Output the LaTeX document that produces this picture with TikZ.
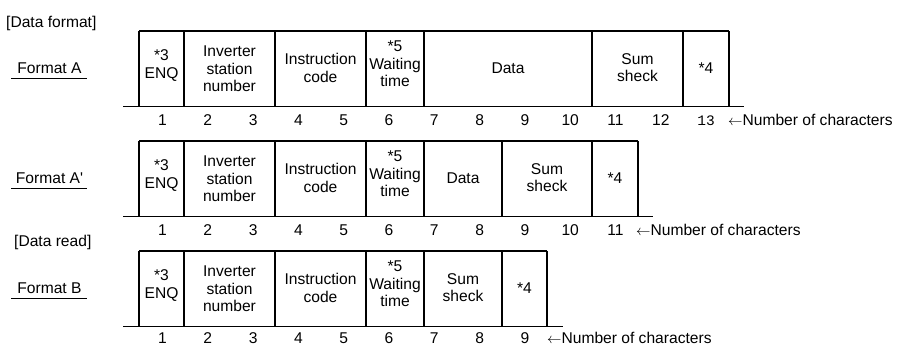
\documentclass[tikz,border=0pt]{standalone}
\usepackage{fontspec}
\setmainfont{Liberation Sans}[Ligatures=TeXOff]
\newfontfamily\monofont{Liberation Mono}
\begin{document}
\begin{tikzpicture}[x=1pt,y=-1pt,
  frame/.style={line width=1.8pt},
  uline/.style={line width=1pt},
  txt/.style={font=\fontsize{15.6}{17.5}\selectfont, inner sep=0pt, align=center},
  num/.style={txt, anchor=base},
  lbl/.style={txt, anchor=base},
]
\useasboundingbox (0,0) rectangle (898,347);

% headings
\node[txt, anchor=base west] (hfmt) at (6,27.5) {[Data format]};
\node[txt, anchor=base west] (hread) at (14,246.5) {[Data read]};

% ---------- Format A ----------
\begin{scope}
\node[lbl] (fA) at (49.5,73.5) {Format A};
\draw[uline] (11,78.5) -- (87,78.5);
\draw[frame] (139,31) -- (729,31);
\foreach \xx in {139,184,275,366,424,592,683,729} \draw[frame] (\xx,31) -- (\xx,106.5);
\draw[frame] (123,106.5) -- (744,106.5);
\node[txt] (a1) at (161.5,65.5) {*3\\ENQ};
\node[txt] (a2) at (229.5,69) {Inverter\\station\\number};
\node[txt] (a3) at (320.5,68) {Instruction\\code};
\node[txt] (a4) at (395,64) {*5\\Waiting\\time};
\node[txt] (a5) at (508,68.5) {Data};
\node[txt] (a6) at (637.5,67.5) {Sum\\sheck};
\node[txt] (a7) at (706,68.5) {*4};
\foreach \k in {1,...,12} \node[num] (nA\k) at ({162.5+45.3*(\k-1)},125.5) {\k};
\node[num, font=\monofont\fontsize{14.5}{17}\selectfont] (nA13) at (706,125.5) {13};
\node[txt, anchor=base west] (cA) at (728,125.5) {$\leftarrow$Number of characters};
\end{scope}

% ---------- Format A' ----------
\begin{scope}[shift={(0,110)}]
\node[lbl] (fAp) at (49.5,73.5) {Format A'};
\draw[uline] (11,78.5) -- (87,78.5);
\draw[frame] (139,31) -- (638,31);
\foreach \xx in {139,184,275,366,424,502,592,638} \draw[frame] (\xx,31) -- (\xx,106.5);
\draw[frame] (123,106.5) -- (653,106.5);
\node[txt] (b1) at (161.5,65.5) {*3\\ENQ};
\node[txt] (b2) at (229.5,69) {Inverter\\station\\number};
\node[txt] (b3) at (320.5,68) {Instruction\\code};
\node[txt] (b4) at (395,64) {*5\\Waiting\\time};
\node[txt] (b5) at (463,68.5) {Data};
\node[txt] (b6) at (547,67.5) {Sum\\sheck};
\node[txt] (b7) at (615,68.5) {*4};
\foreach \k in {1,...,11} \node[num] (nB\k) at ({162.5+45.3*(\k-1)},125.5) {\k};
\node[txt, anchor=base west] (cB) at (636,125.5) {$\leftarrow$Number of characters};
\end{scope}

% ---------- Format B ----------
\begin{scope}[shift={(0,220)}]
\node[lbl] (fB) at (49.5,73.5) {Format B};
\draw[uline] (11,78.5) -- (87,78.5);
\draw[frame] (139,31) -- (547,31);
\foreach \xx in {139,184,275,366,424,502,547} \draw[frame] (\xx,31) -- (\xx,106.5);
\draw[frame] (123,106.5) -- (563,106.5);
\node[txt] (c1) at (161.5,65.5) {*3\\ENQ};
\node[txt] (c2) at (229.5,69) {Inverter\\station\\number};
\node[txt] (c3) at (320.5,68) {Instruction\\code};
\node[txt] (c4) at (395,64) {*5\\Waiting\\time};
\node[txt] (c5) at (463,67.5) {Sum\\sheck};
\node[txt] (c6) at (524.5,68.5) {*4};
\foreach \k in {1,...,9} \node[num] (nC\k) at ({162.5+45.3*(\k-1)},123.5) {\k};
\node[txt, anchor=base west] (cC) at (547,123.5) {$\leftarrow$Number of characters};
\end{scope}
\end{tikzpicture}
\end{document}
